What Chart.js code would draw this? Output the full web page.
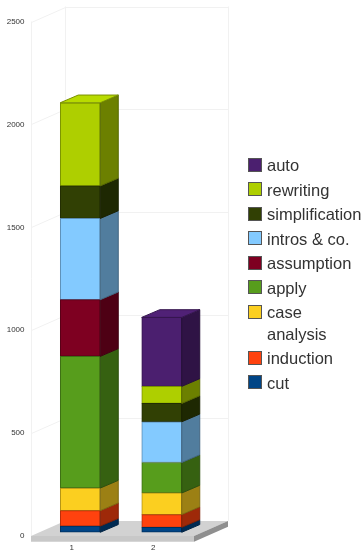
<!DOCTYPE html>
<html>
<head>
<meta charset="utf-8">
<title>Proof steps</title>
<script src="https://cdn.jsdelivr.net/npm/chart.js@4"></script>
<style>
    html, body { margin: 0; padding: 0; background: #fff; }
    #wrap { position: relative; width: 364px; height: 550px; overflow: hidden; }
    #legend {
        position: absolute; left: 248px; top: 155px; width: 116px;
        font: 16.5px/21.5px "Liberation Sans", Arial, sans-serif; color: #333;
    }
    .row { position: relative; padding-left: 19px; margin-bottom: 3px; white-space: nowrap; }
    .swatch {
        position: absolute; left: 0; top: 2.5px; width: 12px; height: 12px;
        border: 1px solid #555;
    }
</style>
</head>
<body>
<div id="wrap">
    <canvas id="chart" width="364" height="550"></canvas>
    <div id="legend"></div>
</div>
<script>
const categories = ['1', '2'];

// bottom of the stack first
const cut = [30, 24];
const induction = [75, 62];
const caseAnalysis = [110, 105];
const apply = [640, 148];
const assumption = [275, 0];
const intros = [395, 198];
const simplification = [158, 89];
const rewriting = [404, 83];
const auto = [0, 335];

const seriesNames = ['cut', 'induction', ['case', 'analysis'], 'apply', 'assumption', 'intros & co.', 'simplification', 'rewriting', 'auto'];
const seriesValues = [cut, induction, caseAnalysis, apply, assumption, intros, simplification, rewriting, auto];
const seriesColors = ['#004586', '#ff420e', '#fbcf20', '#579d1c', '#7e0021', '#83caff', '#314004', '#aecf00', '#4b1f6f'];

const yTicks = [0, 500, 1000, 1500, 2000, 2500];

// depth of the room and of the bars, in pixels
const ROOM_DX = 34, ROOM_DY = -15;
const BAR_DX = 18, BAR_DY = -7.7;
const FLOOR_H = 5.7;

function shade(hex, f) {
    const n = parseInt(hex.slice(1), 16);
    const c = [n >> 16, (n >> 8) & 255, n & 255].map(v => Math.min(255, Math.round(v * f)));
    return `rgb(${c[0]}, ${c[1]}, ${c[2]})`;
}

function poly(ctx, pts, fill, stroke) {
    ctx.beginPath();
    pts.forEach((p, i) => i ? ctx.lineTo(p[0], p[1]) : ctx.moveTo(p[0], p[1]));
    ctx.closePath();
    if (fill) { ctx.fillStyle = fill; ctx.fill(); }
    if (stroke) { ctx.strokeStyle = stroke; ctx.lineWidth = 1; ctx.stroke(); }
}

// walls, grid and floor behind the bars, then side and top faces of the bars
const box3d = {
    id: 'box3d',
    beforeDatasetsDraw(chart) {
        const ctx = chart.ctx;
        const { left, right, top, bottom } = chart.chartArea;
        const y = chart.scales.y;

        ctx.save();
        ctx.strokeStyle = '#f1f1f1';
        ctx.lineWidth = 1;
        ctx.beginPath();
        yTicks.forEach(t => {
            const py = Math.round(y.getPixelForValue(t)) + 0.5;
            if (t > 0) {
                ctx.moveTo(left + 0.5, py);
                ctx.lineTo(left + ROOM_DX + 0.5, py + ROOM_DY);
                ctx.lineTo(right + ROOM_DX + 0.5, py + ROOM_DY);
            }
        });
        ctx.moveTo(left + 0.5, top);
        ctx.lineTo(left + 0.5, bottom);
        ctx.moveTo(left + ROOM_DX + 0.5, top + ROOM_DY);
        ctx.lineTo(left + ROOM_DX + 0.5, bottom + ROOM_DY);
        ctx.moveTo(right + ROOM_DX + 0.5, top + ROOM_DY);
        ctx.lineTo(right + ROOM_DX + 0.5, bottom + ROOM_DY);
        ctx.stroke();

        poly(ctx, [[left, bottom], [left + ROOM_DX, bottom + ROOM_DY], [right + ROOM_DX, bottom + ROOM_DY], [right, bottom]], '#d2d2d2');
        poly(ctx, [[left, bottom], [right, bottom], [right, bottom + FLOOR_H], [left, bottom + FLOOR_H]], '#c8c8c8');
        poly(ctx, [[right, bottom], [right + ROOM_DX, bottom + ROOM_DY], [right + ROOM_DX, bottom + ROOM_DY + FLOOR_H], [right, bottom + FLOOR_H]], '#8f8f8f');
        ctx.restore();

        // bars stand in the middle of the room's depth
        ctx.save();
        ctx.translate(ROOM_DX / 4, ROOM_DY / 4);
    },
    afterDatasetsDraw(chart) {
        const ctx = chart.ctx;
        categories.forEach((c, j) => {
            let topBar = null;
            chart.data.datasets.forEach((ds, i) => {
                const bar = chart.getDatasetMeta(i).data[j];
                if (!ds.data[j]) return;
                const r = bar.x + bar.width / 2;
                poly(ctx, [[r, bar.y], [r + BAR_DX, bar.y + BAR_DY], [r + BAR_DX, bar.base + BAR_DY], [r, bar.base]],
                    shade(seriesColors[i], 0.62), shade(seriesColors[i], 0.5));
                topBar = { bar, color: seriesColors[i] };
            });
            if (topBar) {
                const { bar, color } = topBar;
                const l = bar.x - bar.width / 2, r = bar.x + bar.width / 2;
                poly(ctx, [[l, bar.y], [l + BAR_DX, bar.y + BAR_DY], [r + BAR_DX, bar.y + BAR_DY], [r, bar.y]],
                    shade(color, 1.06), shade(color, 0.7));
            }
        });
        ctx.restore();
    }
};

const chart = new Chart(document.getElementById('chart'), {
    type: 'bar',
    data: {
        labels: categories,
        datasets: seriesValues.map((values, i) => ({
            label: seriesNames[i],
            data: values,
            backgroundColor: seriesColors[i],
            borderColor: shade(seriesColors[i], 0.7),
            borderWidth: 1,
            borderSkipped: false,
            barThickness: 40,
            clip: false
        }))
    },
    options: {
        responsive: false,
        animation: false,
        layout: { padding: { left: 0, right: 170, top: 21.5, bottom: 0 } },
        scales: {
            x: {
                stacked: true,
                grid: { display: false, drawTicks: false },
                border: { display: false },
                ticks: { color: '#333', padding: 7, font: { family: 'Liberation Sans', size: 8 } },
                afterFit(scale) { scale.height = 14; }
            },
            y: {
                stacked: true,
                min: 0,
                max: 2500,
                grid: { display: false, drawTicks: false },
                border: { display: false },
                afterBuildTicks(scale) { scale.ticks = yTicks.map(value => ({ value })); },
                ticks: {
                    color: '#333',
                    padding: 6.5,
                    font: { family: 'Liberation Sans', size: 8 },
                    callback: v => String(v)
                },
                afterFit(scale) { scale.width = 31; }
            }
        },
        plugins: {
            legend: { display: false },
            tooltip: { enabled: false }
        }
    },
    plugins: [box3d]
});

// legend runs top to bottom, opposite to the stack
const legend = document.getElementById('legend');
chart.data.datasets.slice().reverse().forEach(ds => {
    const row = document.createElement('div');
    row.className = 'row';
    const swatch = document.createElement('span');
    swatch.className = 'swatch';
    swatch.style.background = ds.backgroundColor;
    row.appendChild(swatch);
    [].concat(ds.label).forEach(line => {
        const t = document.createElement('div');
        t.textContent = line;
        row.appendChild(t);
    });
    legend.appendChild(row);
});
</script>
</body>
</html>
